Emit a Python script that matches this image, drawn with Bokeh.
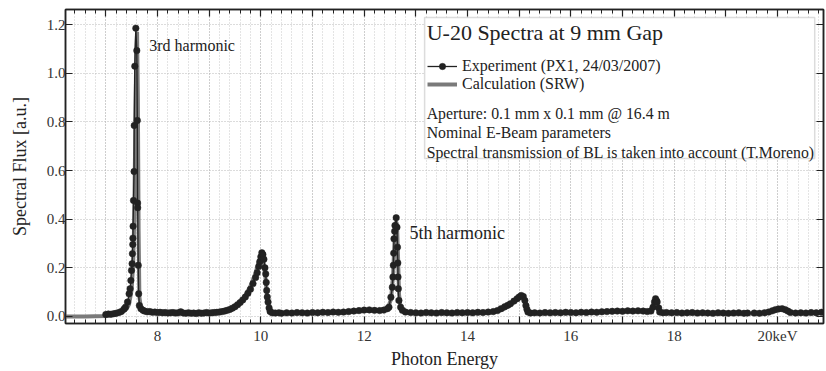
from bokeh.plotting import figure
from bokeh.models import (Range1d, FixedTicker, LinearAxis, Legend, LegendItem,
                          Label, BoxAnnotation)
from bokeh.embed import file_html
from bokeh.resources import INLINE

# ---------------- data ----------------
calc_energy = [6.2, 6.6, 7.0, 7.2, 7.3, 7.4, 7.45, 7.5, 7.53, 7.55, 7.57, 7.59, 7.605,
               7.62, 7.635, 7.65, 7.68, 7.75, 7.9, 8.2, 8.6, 9.0, 9.3, 9.45, 9.6, 9.7,
               9.8, 9.9, 9.96, 10.01, 10.05, 10.09, 10.12, 10.16, 10.22, 10.4, 11.0,
               11.6, 11.9, 12.1, 12.3, 12.45, 12.52, 12.56, 12.59, 12.615, 12.635,
               12.655, 12.675, 12.71, 12.78, 13.0, 13.6, 14.2, 14.5, 14.7, 14.85,
               14.95, 15.03, 15.08, 15.13, 15.18, 15.25, 15.5, 16.0, 16.6, 17.0, 17.4,
               17.52, 17.58, 17.62, 17.66, 17.70, 17.75, 17.85, 18.3, 18.9, 19.4,
               19.7, 19.85, 19.95, 20.05, 20.15, 20.25, 20.4, 20.7, 21.0]
calc_flux = [0.0, 0.0, 0.002, 0.008, 0.015, 0.03, 0.05, 0.11, 0.22, 0.40, 0.75, 1.10,
             1.17, 0.90, 0.35, 0.08, 0.035, 0.02, 0.016, 0.014, 0.013, 0.014, 0.02,
             0.03, 0.055, 0.085, 0.125, 0.18, 0.225, 0.25, 0.23, 0.16, 0.09, 0.04,
             0.015, 0.012, 0.013, 0.015, 0.02, 0.024, 0.022, 0.03, 0.07, 0.17, 0.32,
             0.39, 0.38, 0.25, 0.09, 0.03, 0.015, 0.012, 0.012, 0.013, 0.016, 0.03,
             0.05, 0.068, 0.08, 0.078, 0.05, 0.02, 0.012, 0.012, 0.013, 0.017, 0.02,
             0.02, 0.022, 0.04, 0.068, 0.06, 0.03, 0.014, 0.012, 0.012, 0.011, 0.011,
             0.013, 0.018, 0.026, 0.03, 0.027, 0.016, 0.012, 0.013, 0.014]

exp_energy = [7.00, 7.05, 7.10, 7.15, 7.20, 7.25, 7.30, 7.35, 7.38, 7.42, 7.451, 7.470,
              7.485, 7.497, 7.509, 7.515, 7.522, 7.525, 7.528, 7.536, 7.547, 7.550,
              7.561, 7.581, 7.600, 7.610, 7.615, 7.617, 7.628, 7.636, 7.650, 7.68,
              7.72, 7.75, 7.80, 7.85, 7.90, 7.95, 8.00, 8.05, 8.10, 8.15, 8.20, 8.25,
              8.30, 8.35, 8.40, 8.45, 8.50, 8.55, 8.60, 8.65, 8.70, 8.75, 8.80, 8.85,
              8.90, 8.95, 9.00, 9.05, 9.10, 9.15, 9.20, 9.25, 9.30, 9.35, 9.40, 9.45,
              9.50, 9.55, 9.60, 9.65, 9.70, 9.75, 9.80, 9.85, 9.90, 9.93, 9.96, 9.98,
              10.00, 10.02, 10.04, 10.06, 10.08, 10.095, 10.105, 10.114, 10.125,
              10.14, 10.16, 10.18, 10.22, 10.28, 10.35, 10.40, 10.50, 10.60, 10.70,
              10.80, 10.90, 11.00, 11.10, 11.20, 11.30, 11.40, 11.50, 11.60, 11.70,
              11.80, 11.90, 12.00, 12.10, 12.20, 12.30, 12.38, 12.45, 12.48, 12.518,
              12.545, 12.557, 12.565, 12.572, 12.577, 12.590, 12.596, 12.620, 12.635,
              12.645, 12.652, 12.655, 12.662, 12.673, 12.706, 12.74, 12.80, 12.90,
              13.00, 13.10, 13.20, 13.30, 13.40, 13.50, 13.60, 13.70, 13.80, 13.90,
              14.00, 14.10, 14.20, 14.30, 14.40, 14.50, 14.58, 14.65, 14.72, 14.78,
              14.83, 14.90, 14.96, 15.00, 15.04, 15.08, 15.11, 15.13, 15.15, 15.17,
              15.22, 15.30, 15.40, 15.50, 15.60, 15.70, 15.80, 15.90, 16.00, 16.10,
              16.20, 16.30, 16.40, 16.50, 16.60, 16.70, 16.80, 16.90, 17.00, 17.10,
              17.20, 17.30, 17.40, 17.48, 17.55, 17.59, 17.62, 17.64, 17.66, 17.67,
              17.70, 17.72, 17.78, 17.85, 17.95, 18.05, 18.15, 18.25, 18.35, 18.45,
              18.55, 18.65, 18.75, 18.85, 18.95, 19.05, 19.15, 19.25, 19.35, 19.42,
              19.55, 19.65, 19.75, 19.83, 19.90, 19.96, 20.02, 20.09, 20.15, 20.20,
              20.25, 20.35, 20.45, 20.55, 20.65, 20.75, 20.85, 20.95]
exp_flux = [0.008, 0.010, 0.009, 0.011, 0.013, 0.016, 0.020, 0.030, 0.038, 0.059, 0.093,
            0.114, 0.148, 0.189, 0.217, 0.258, 0.296, 0.322, 0.371, 0.477, 0.596, 0.785,
            1.029, 1.185, 1.093, 0.806, 0.466, 0.447, 0.210, 0.093, 0.045, 0.032,
            0.025, 0.022, 0.019, 0.020, 0.017, 0.018, 0.016, 0.017, 0.015, 0.016,
            0.014, 0.015, 0.016, 0.014, 0.015, 0.019, 0.014, 0.013, 0.015, 0.013,
            0.014, 0.012, 0.015, 0.013, 0.014, 0.016, 0.014, 0.015, 0.016, 0.017,
            0.018, 0.020, 0.022, 0.025, 0.029, 0.034, 0.040, 0.048, 0.057, 0.068,
            0.080, 0.095, 0.112, 0.135, 0.160, 0.180, 0.205, 0.225, 0.245, 0.262,
            0.255, 0.235, 0.200, 0.175, 0.140, 0.107, 0.080, 0.059, 0.035, 0.020,
            0.015, 0.014, 0.015, 0.013, 0.015, 0.014, 0.016, 0.015, 0.014, 0.016,
            0.015, 0.017, 0.016, 0.018, 0.017, 0.018, 0.020, 0.022, 0.024, 0.026,
            0.027, 0.025, 0.024, 0.026, 0.032, 0.038, 0.079, 0.120, 0.162, 0.210,
            0.260, 0.319, 0.350, 0.374, 0.406, 0.367, 0.285, 0.220, 0.162, 0.114,
            0.066, 0.038, 0.025, 0.018, 0.016, 0.015, 0.014, 0.016, 0.015, 0.014,
            0.016, 0.015, 0.014, 0.016, 0.015, 0.016, 0.015, 0.017, 0.016, 0.018,
            0.020, 0.024, 0.032, 0.040, 0.046, 0.052, 0.063, 0.073, 0.080, 0.086,
            0.082, 0.066, 0.045, 0.030, 0.018, 0.014, 0.015, 0.014, 0.016, 0.015,
            0.016, 0.015, 0.017, 0.016, 0.015, 0.017, 0.016, 0.018, 0.017, 0.019,
            0.020, 0.021, 0.022, 0.021, 0.023, 0.022, 0.023, 0.022, 0.020, 0.022,
            0.038, 0.060, 0.073, 0.064, 0.059, 0.035, 0.018, 0.015, 0.016, 0.015,
            0.016, 0.014, 0.015, 0.016, 0.014, 0.015, 0.014, 0.013, 0.015, 0.014,
            0.013, 0.014, 0.015, 0.013, 0.014, 0.014, 0.013, 0.015, 0.018, 0.023,
            0.028, 0.031, 0.032, 0.028, 0.022, 0.016, 0.014, 0.015, 0.014, 0.016,
            0.015, 0.017, 0.018]

x_major = [7, 8, 9, 10, 11, 12, 13, 14, 15, 16, 17, 18, 19, 20]
x_labels = {7: "", 8: "8", 9: "", 10: "10", 11: "", 12: "12", 13: "", 14: "14",
            15: "", 16: "16", 17: "", 18: "18", 19: "", 20: "20keV"}
x_minor = [round(6.2 + 0.2 * i, 1) for i in range(75)]
y_major = [0.0, 0.2, 0.4, 0.6, 0.8, 1.0, 1.2]
y_labels = {0.0: "0.0", 0.2: "0.2", 0.4: "0.4", 0.6: "0.6", 0.8: "0.8",
            1.0: "1.0", 1.2: "1.2"}

FONT = "Liberation Serif"
INK = "#222222"

p = figure(width=826, height=371, output_backend="svg", toolbar_location=None,
           x_range=Range1d(6.22, 20.89), y_range=Range1d(-0.029, 1.262),
           min_border_left=65, min_border_right=3, min_border_top=9,
           min_border_bottom=48, x_axis_label="Photon Energy",
           y_axis_label="Spectral Flux [a.u.]")
p.outline_line_color = INK
p.outline_line_width = 1.5
p.background_fill_color = "white"

bottom = p.below[0]
left = p.left[0]

xt = FixedTicker(ticks=x_major, minor_ticks=x_minor)
yt = FixedTicker(ticks=y_major, minor_ticks=[])

bottom.ticker = xt
bottom.major_label_overrides = x_labels
left.ticker = yt
left.major_label_overrides = y_labels

top = LinearAxis(ticker=xt, major_label_overrides={t: "" for t in x_major},
                 major_label_text_font_size="1px", major_label_standoff=0)
right = LinearAxis(ticker=yt, major_label_overrides={t: "" for t in y_major},
                   major_label_text_font_size="1px", major_label_standoff=0)
p.add_layout(top, "above")
p.add_layout(right, "right")

for ax in [bottom, top]:
    ax.major_tick_in = 7
    ax.major_tick_out = 0
    ax.minor_tick_in = 4
    ax.minor_tick_out = 0
    ax.minor_tick_line_color = INK
for ax in [left, right]:
    ax.major_tick_in = 7
    ax.major_tick_out = 0
    ax.minor_tick_line_color = None
for ax in [bottom, top, left, right]:
    ax.axis_line_color = INK
    ax.axis_line_width = 1.5
    ax.major_tick_line_color = INK
    ax.major_tick_line_width = 1.2
    ax.major_label_text_font = FONT
    ax.major_label_text_color = "#333333"
    ax.axis_label_text_font = FONT
    ax.axis_label_text_font_style = "normal"
    ax.axis_label_text_color = "#222222"

bottom.major_label_text_font_size = "15px"
bottom.major_label_standoff = 4
bottom.axis_label_text_font_size = "18px"
bottom.axis_label_standoff = 2
left.major_label_text_font_size = "15px"
left.major_label_standoff = 0
left.axis_label_text_font_size = "18px"
left.axis_label_standoff = 14

p.xgrid.ticker = xt
p.ygrid.ticker = yt
p.xgrid.grid_line_color = "#b8b8b8"
p.xgrid.grid_line_dash = "1 2"
p.xgrid.minor_grid_line_color = "#c8c8c8"
p.xgrid.minor_grid_line_dash = "1 2"
p.ygrid.grid_line_color = "#b8b8b8"
p.ygrid.grid_line_dash = "1 2"

calc = p.line(calc_energy, calc_flux, line_color="#7a7a7a", line_width=4)
exp_line = p.line(exp_energy, exp_flux, line_color=INK, line_width=1.3)
exp_dots = p.scatter(exp_energy, exp_flux, size=6.5, fill_color=INK,
                     line_color=INK, line_width=0.5)

box = BoxAnnotation(left=13.17, right=20.72, bottom=0.649, top=1.229,
                    fill_color="white", fill_alpha=1.0, line_color="#8a8a8a",
                    line_width=1.5)
p.add_layout(box)

p.add_layout(Label(x=13.21, y=1.167, text="U-20 Spectra at 9 mm Gap",
                   text_font=FONT, text_font_size="22px", text_color="#222222",
                   text_baseline="middle"))

notes = ["Aperture: 0.1 mm x 0.1 mm @ 16.4 m",
         "Nominal E-Beam parameters",
         "Spectral transmission of BL is taken into account (T.Moreno)"]
note_y = [0.834, 0.756, 0.674]
for t, yy in zip(notes, note_y):
    p.add_layout(Label(x=13.21, y=yy, text=t, text_font=FONT, text_font_size="15.8px",
                       text_color="#222222", text_baseline="middle"))

p.add_layout(Label(x=7.84, y=1.114, text="3rd harmonic", text_font=FONT,
                   text_font_size="16px", text_color="#222222", text_baseline="middle"))
p.add_layout(Label(x=12.88, y=0.345, text="5th harmonic", text_font=FONT,
                   text_font_size="18px", text_color="#222222", text_baseline="middle"))

legend = Legend(items=[LegendItem(label="Experiment (PX1, 24/03/2007)",
                                  renderers=[exp_line, exp_dots]),
                       LegendItem(label="Calculation (SRW)", renderers=[calc])],
                location=(362, 230), border_line_color=None,
                background_fill_alpha=0.0, padding=0, margin=0, spacing=0,
                label_text_font=FONT, label_text_font_size="16px",
                label_text_color="#222222", label_height=16, glyph_height=16,
                glyph_width=30, label_standoff=5)
p.add_layout(legend)

open("out.html", "w").write(file_html(p, INLINE))
